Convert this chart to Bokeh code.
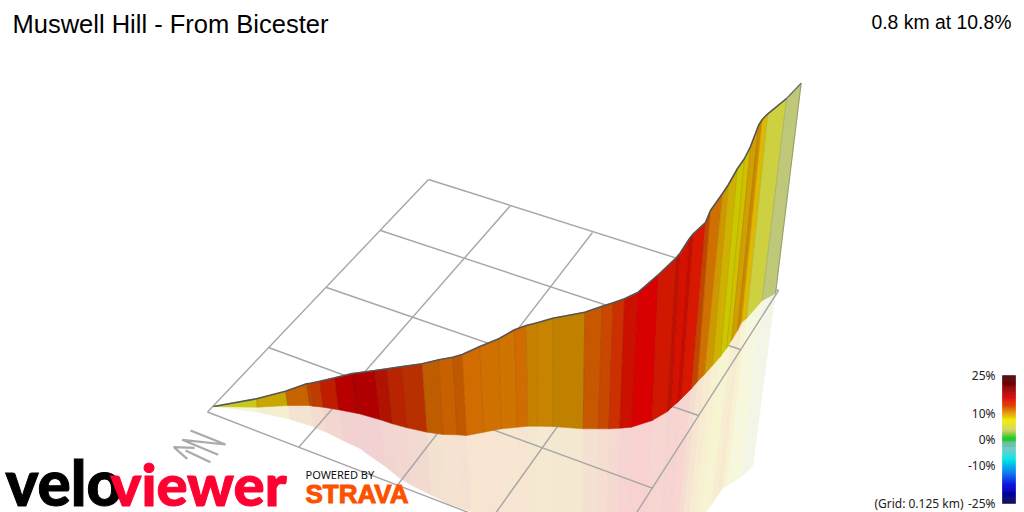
from bokeh.plotting import figure
from bokeh.models import Range1d
from bokeh.core.properties import value
from bokeh.embed import file_html
from bokeh.resources import INLINE

title = "Muswell Hill - From Bicester"
summary = "0.8 km at 10.8%"
grid_note = "(Grid: 0.125 km)"

top_x = [213,256,285,306,310,319.3,334.3,351.7,354,374.3,386.7,401.7,421.7,438.3,452.3,461.7,479.3,498.3,514,525.7,536.7,552.3,584.3,601.7,612.7,624,637.7,658,676,680,689,693,705,710,722,728,737,744,750,758,761.7,767.3,786,800.7]
top_y = [406,398.3,390.7,383.3,382.7,380.7,377.3,373,372.7,370,368.3,366,363.3,359.3,356.7,354,346,338.3,329.3,325,322.3,317.7,311.7,305.7,302.3,298.3,291.7,274,257,252,238,233,222,210,193,184,168,158,146,125,119,113.3,98,82.7]
base_x = [213,256.7,287.3,309.3,312.7,322.7,338.3,356,358,380,392,406.7,426.7,442.7,456.7,466,483.3,501,516.7,527.3,537.3,552.3,582.7,597.7,608.3,619.3,630.7,651.7,667,671,677,681,691,697,704,712,720,726,731,737,741,746,761.7,775]
base_y = [406,406.7,405,405,405.7,406.7,409.3,412.7,413,419.3,423.3,427.3,431.7,434,434.3,435,431.7,428.3,426.7,425.7,425.7,426,428.3,428.3,428.3,427.7,426.7,420,411,407,402,398,388,381,374,365,356,348,340,330,322,318,300,293]
foot_x = [213,257,289,312,315,326,342,361,363,386,398,411,431,447,461,470,487,504,519,529,538,552,581,594,604,615,624,645,658,662,665,669,676,681,687,693,700,705,710,716,722,726,740,752.7]
foot_y = [406,412,419,426,428,432,440,449,451,467,477,485,495,503,508,511,514,518,522,525,527,530,532,538,540,545,550,552,552,548,552,550,537,533,530,525,518,512,506,497,488,486,477,465.7]
seg_colors = ["#c8c81e","#c8a800","#c86400","#b84800","#c03c00","#c01c00","#b80000","#a80000","#b00000","#b01400","#b82400","#b83000","#c05c00","#c86000","#c05800","#d06c00","#d07000","#d07400","#d06c00","#c88000","#c88400","#c08000","#c85800","#c84800","#cc3000","#cc1000","#d80000","#d01800","#c01000","#d81000","#c80c00","#d81800","#c44400","#d07000","#d09800","#d0b000","#ccc800","#d0c000","#d0a000","#cc8800","#e0b800","#cdd040","#bec878"]

grid_x0 = [428,380,326,268,207,428,510,592,677,778]
grid_y0 = [179,230,287,347,411.5,179,205,232,258,290]
grid_x1 = [778,740,698,652,603,207,298,396.7,489.5,603]
grid_y1 = [290,349,415,487.7,564,411.5,447,485,520.5,564]

north_x = [[190,225,181.7,217.7],[210,185],[194,173.3,186.7]]
north_y = [[430,444,439.3,454.3],[461.7,450],[447.3,446.7,458.3]]

scale_pct = [25,20,16,11.4,7.5,3.5,0.3,-1.6,-3.5,-8,-14,-18,-25]
scale_col = ["#400000","#900000","#dd0000","#e07000","#eeee00","#d0d060","#10c810","#60c0a0","#70c8c0","#00e8e8","#0060f0","#0000e0","#000050"]
scale_ticks = [25,10,0,-10,-25]
scale_labels = ["25%","10%","0%","-10%","-25%"]

p = figure(width=1024, height=512, x_range=Range1d(0,1024), y_range=Range1d(512,0),
           output_backend="svg", toolbar_location=None, min_border=0, outline_line_color=None,
           background_fill_color="white", border_fill_color="white")
p.axis.visible = False
p.grid.visible = False
p.extra_y_ranges = {"pct": Range1d(-28.52,171.48)}

def quad(ax,ay,bx,by,i):
    return [ax[i],ax[i+1],bx[i+1],bx[i]], [ay[i],ay[i+1],by[i+1],by[i]]

n = len(top_x)-1
rx, ry, wx, wy = [], [], [], []
for i in range(n):
    x,y = quad(base_x,base_y,foot_x,foot_y,i); rx.append(x); ry.append(y)
    x,y = quad(top_x,top_y,base_x,base_y,i); wx.append(x); wy.append(y)

p.patches(rx, ry, fill_color=seg_colors, fill_alpha=0.18, line_color=None)
p.segment(grid_x0, grid_y0, grid_x1, grid_y1, line_color="#a6a6a6", line_width=1.4)
p.patches(wx, wy, fill_color=seg_colors, line_color=seg_colors, line_width=0.6)
p.segment(top_x[1:-1], top_y[1:-1], base_x[1:-1], base_y[1:-1], line_color="#000000", line_alpha=0.1, line_width=1)
p.line(top_x[:-1], top_y[:-1], line_color="#555555", line_width=1.6)
p.line(top_x[-2:], top_y[-2:], line_color="#707070", line_width=1.4)
p.line([top_x[-1],base_x[-1]], [top_y[-1],base_y[-1]], line_color="#8a8f60", line_width=0.8)

p.multi_line(north_x, north_y, line_color="#aaaaaa", line_width=2.2)

# colour scale
def hx(c): return [int(c[i:i+2],16) for i in (1,3,5)]
bars_top, bars_bot, bars_col = [], [], []
for i in range(len(scale_pct)-1):
    a,b = scale_pct[i], scale_pct[i+1]
    steps = max(1,int((a-b)*2.5))
    for k in range(steps):
        ca,cb = hx(scale_col[i]),hx(scale_col[i+1])
        t=(k+.5)/steps
        bars_top.append(a+(b-a)*k/steps); bars_bot.append(a+(b-a)*(k+1)/steps)
        bars_col.append("#%02x%02x%02x"%tuple(round(ca[j]+(cb[j]-ca[j])*t) for j in range(3)))
p.quad(left=1002, right=1015, top=bars_top, bottom=bars_bot, fill_color=bars_col, line_color=bars_col, line_width=0.5, y_range_name="pct")
p.text(x=[995]*len(scale_ticks), y=scale_ticks, text=scale_labels, text_align="right", text_baseline="middle",
       text_font=value("Noto Sans"), text_font_size="12px", text_color="#222222", y_range_name="pct")
p.text(x=[963], y=[-25], text=[grid_note], text_align="right", text_baseline="middle",
       text_font=value("Noto Sans"), text_font_size="12px", text_color="#222222", y_range_name="pct")

p.text(x=[12], y=[23], text=[title], text_font=value("Liberation Sans"), text_font_size="25.5px", text_color="#000000", text_baseline="middle")
p.text(x=[1011], y=[21], text=[summary], text_align="right", text_font=value("Liberation Sans"), text_font_size="19.4px", text_color="#000000", text_baseline="middle")

p.text(x=[5], y=[481], text=["velo"], text_font=value("Lato Black"), text_font_style="bold", text_font_size="62px", text_color="#000000", text_outline_color="#000000", text_baseline="middle")
p.text(x=[110], y=[483], text=["viewer"], text_font=value("Lato Black"), text_font_style="bold", text_font_size="58px", text_color="#ff0033", text_outline_color="#ff0033", text_baseline="middle")
p.text(x=[305], y=[474], text=["POWERED BY"], text_font=value("Noto Sans"), text_font_size="11px", text_color="#111111", text_baseline="middle")
p.text(x=[305], y=[493], text=["STRAVA"], text_font=value("Liberation Sans"), text_font_style="bold", text_font_size="26px", text_color="#fc5200", text_outline_color="#fc5200", text_baseline="middle")

open("out.html","w").write(file_html(p, INLINE))
